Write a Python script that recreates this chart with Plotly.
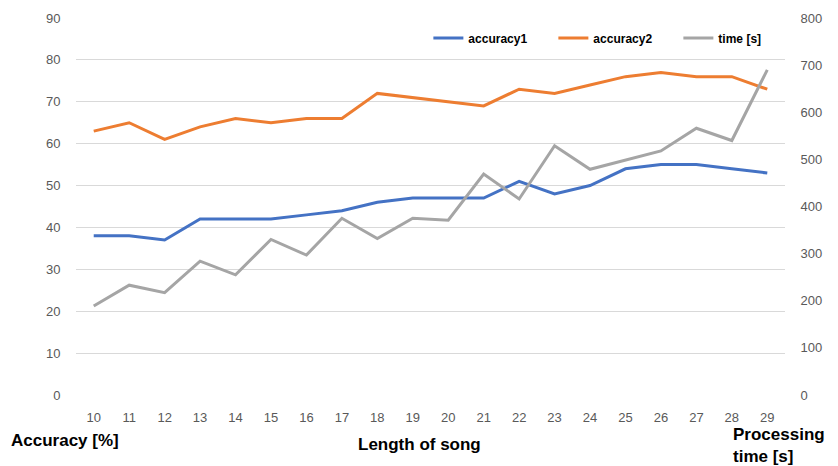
import plotly.graph_objects as go

song_length = list(range(10, 30))
accuracy1 = [38, 38, 37, 42, 42, 42, 43, 44, 46, 47, 47, 47, 51, 48, 50, 54, 55, 55, 54, 53]
accuracy2 = [63, 65, 61, 64, 66, 65, 66, 66, 72, 71, 70, 69, 73, 72, 74, 76, 77, 76, 76, 73]
time_s = [189, 233, 217, 284, 255, 330, 297, 375, 332, 375, 371, 469, 416, 529, 479, 499, 518, 566, 540, 690]

TICK_FONT = dict(family="Liberation Sans Narrow, Liberation Sans, Arial", size=13, color="#595959")
LABEL_FONT = dict(family="Liberation Sans, Arial", size=17, color="#000000")

fig = go.Figure()
fig.add_trace(go.Scatter(x=song_length, y=accuracy1, name="accuracy1", mode="lines",
                         line=dict(color="#4472C4", width=3)))
fig.add_trace(go.Scatter(x=song_length, y=accuracy2, name="accuracy2", mode="lines",
                         line=dict(color="#ED7D31", width=3)))
fig.add_trace(go.Scatter(x=song_length, y=time_s, name="time [s]", mode="lines",
                         line=dict(color="#A5A5A5", width=3), yaxis="y2"))

fig.update_layout(
    width=838, height=466,
    margin=dict(l=76, r=53, t=18, b=71, autoexpand=False),
    plot_bgcolor="white", paper_bgcolor="white",
    showlegend=True,
    legend=dict(orientation="h", x=0.497, y=0.947, xanchor="left", yanchor="middle",
                font=dict(family="Liberation Sans, Arial", size=12, color="#000000", weight="bold"),
                bgcolor="rgba(0,0,0,0)", entrywidth=80, entrywidthmode="pixels"),
    xaxis=dict(range=[9.5, 29.5], tickmode="array", tickvals=song_length,
               ticktext=[str(v) for v in song_length], showgrid=False, zeroline=False,
               showline=False, tickfont=TICK_FONT, ticks="outside", ticklen=10,
               tickcolor="rgba(0,0,0,0)"),
    yaxis=dict(range=[0, 90], dtick=10, showgrid=True, gridcolor="#D9D9D9", gridwidth=1,
               zeroline=False, showline=False, tickfont=TICK_FONT, ticks="outside",
               ticklen=12, tickcolor="rgba(0,0,0,0)"),
    yaxis2=dict(range=[0, 800], dtick=100, overlaying="y", side="right", showgrid=False,
                zeroline=False, showline=False, tickfont=TICK_FONT, ticks="outside",
                ticklen=12, tickcolor="rgba(0,0,0,0)"),
    annotations=[
        dict(text="<b>Accuracy [%]</b>", xref="paper", yref="paper", x=-0.095, y=-0.12,
             xanchor="left", yanchor="middle", showarrow=False, font=LABEL_FONT),
        dict(text="<b>Length of song</b>", xref="paper", yref="paper", x=0.484, y=-0.13,
             xanchor="center", yanchor="middle", showarrow=False, font=LABEL_FONT),
        dict(text="<b>Processing<br>time [s]</b>", xref="paper", yref="paper", x=0.924, y=-0.133,
             xanchor="left", yanchor="middle", align="left", showarrow=False, font=LABEL_FONT),
    ],
)

fig.write_html("out.html")
